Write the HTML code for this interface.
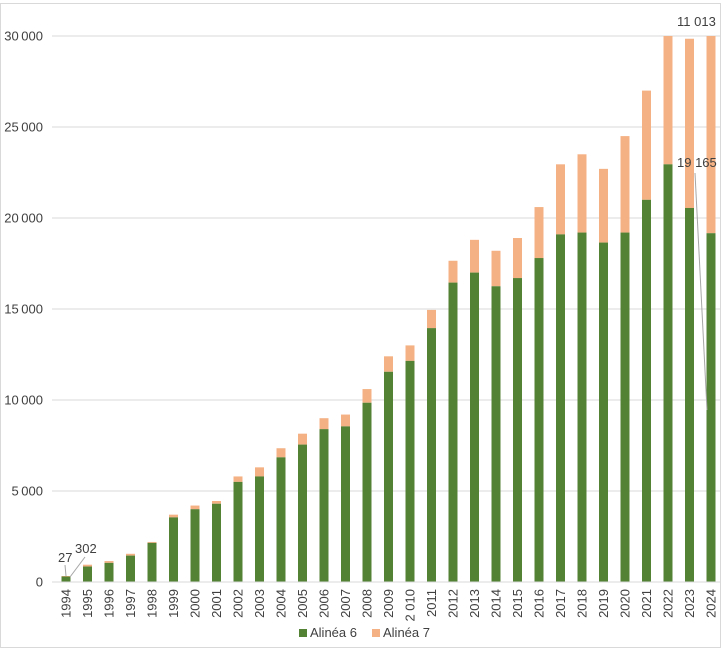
<!DOCTYPE html>
<html><head><meta charset="utf-8"><style>
body{margin:0;background:#fff}
svg{display:block;font-family:"Liberation Sans",Calibri,sans-serif}
</style></head><body>
<svg id="c" width="722" height="649" xmlns="http://www.w3.org/2000/svg">
<rect x="0.5" y="3.5" width="720" height="644" fill="#fff" stroke="#d9d9d9"/>
</svg>
<script>
const s=document.getElementById('c');let h='';
const base=582,k=546/30000;
for(let v=0;v<=30000;v+=5000){const y=base-v*k;
 h+=`<line x1="52" x2="721" y1="${y}" y2="${y}" stroke="#d9d9d9" stroke-width="1"/>`;
 h+=`<text x="43" y="${y+4.5}" text-anchor="end" font-size="13" fill="#404040">${v==0?'0':(v/1000)+'\u202f000'}</text>`;}
const d=[[302,329],[850,950],[1050,1150],[1450,1550],[2150,2200],[3550,3700],[4000,4200],[4300,4450],[5500,5800],[5800,6300],[6850,7350],[7550,8150],[8400,9000],[8550,9200],[9850,10600],[11550,12400],[12150,13000],[13950,14950],[16450,17650],[17000,18800],[16250,18200],[16700,18900],[17800,20600],[19100,22950],[19200,23500],[18650,22700],[19200,24500],[21000,27000],[22950,30000],[20550,29850],[19165,30000]];
d.forEach((p,i)=>{const cx=66+21.5*i,x=cx-4.5;const gy=base-p[0]*k,ty=base-p[1]*k;
 h+=`<rect x="${x}" y="${ty}" width="9" height="${gy-ty}" fill="#f4b183"/>`;
 h+=`<rect x="${x}" y="${gy}" width="9" height="${base-gy}" fill="#548235"/>`;
 const yr=i==16?'2 010':String(1994+i);
 h+=`<text transform="translate(${cx+4.5},589) rotate(-90)" text-anchor="end" font-size="13" fill="#404040">${yr}</text>`;});
h+=`<line x1="52" x2="721" y1="582" y2="582" stroke="#d9d9d9"/>`;
h+=`<text x="58" y="562" font-size="13" fill="#404040">27</text><line x1="65" y1="565" x2="66" y2="576" stroke="#a6a6a6"/>`;
h+=`<text x="75" y="553" font-size="13" fill="#404040">302</text><line x1="85" y1="557" x2="70" y2="577" stroke="#a6a6a6"/>`;
h+=`<text x="677" y="26" font-size="13" fill="#404040">11 013</text>`;
h+=`<text x="677" y="167" font-size="13" fill="#404040">19 165</text><line x1="695" y1="173" x2="707" y2="410" stroke="#a6a6a6"/>`;
h+=`<rect x="299" y="629" width="8" height="8" fill="#548235"/><text x="310" y="637" font-size="13" fill="#404040">Alinéa 6</text>`;
h+=`<rect x="372" y="629" width="8" height="8" fill="#f4b183"/><text x="383" y="637" font-size="13" fill="#404040">Alinéa 7</text>`;
s.insertAdjacentHTML('beforeend',h);
</script>
</body></html>
